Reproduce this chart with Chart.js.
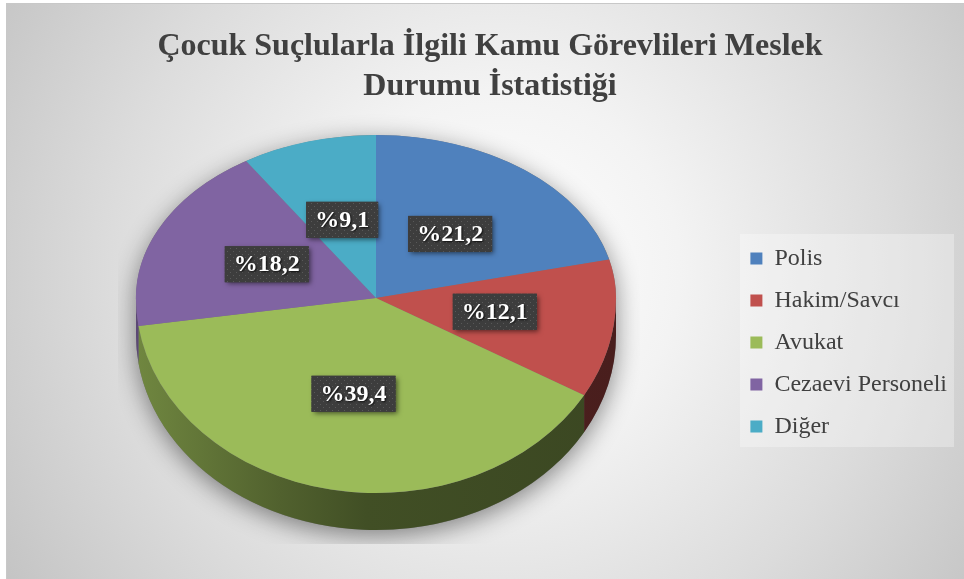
<!DOCTYPE html>
<html>
<head>
<meta charset="utf-8">
<script src="https://cdn.jsdelivr.net/npm/chart.js@4.4.0/dist/chart.umd.min.js"></script>
<style>
html, body { margin: 0; padding: 0; background: #fff; }
#wrap { width: 964px; height: 579px; }
</style>
</head>
<body>
<div id="wrap"><canvas id="chart" width="964" height="579"></canvas></div>
<script>
const categories = ["Polis", "Hakim/Savcı", "Avukat", "Cezaevi Personeli", "Diğer"];
const percentages = [21.2, 12.1, 39.4, 18.2, 9.1];
const sliceColors = ["#4F81BD", "#C0504D", "#9BBB59", "#8064A2", "#4BACC6"];
const titleLines = ["Çocuk Suçlularla İlgili Kamu Görevlileri Meslek", "Durumu İstatistiği"];

const SERIF = "'Liberation Serif', 'Times New Roman', serif";
// where the tilted pie sits on the page (back half flatter than front half)
const PIE = { cx: 376, cy: 298, rx: 240, ryBack: 163, ryFront: 195, depth: 37 };

const shade = (hex, f) => {
    const n = parseInt(hex.slice(1), 16);
    const r = Math.round(((n >> 16) & 255) * f);
    const g = Math.round(((n >> 8) & 255) * f);
    const b = Math.round((n & 255) * f);
    return `rgb(${r},${g},${b})`;
};

const backgroundPlugin = {
    id: "background",
    beforeDraw(chart) {
        const { ctx, width, height } = chart;
        ctx.save();
        ctx.fillStyle = "#ffffff";
        ctx.fillRect(0, 0, width, height);
        const g = ctx.createRadialGradient(500, 270, 0, 500, 270, 600);
        g.addColorStop(0, "#ffffff");
        g.addColorStop(0.3, "#f3f3f3");
        g.addColorStop(0.65, "#dcdcdc");
        g.addColorStop(1, "#c2c2c2");
        ctx.fillStyle = g;
        ctx.fillRect(7, 4, width - 7, height - 4);
        ctx.strokeStyle = "#c8c8c8";
        ctx.lineWidth = 1;
        ctx.strokeRect(6.5, 3.5, width - 6, height - 3);
        // legend panel
        ctx.fillStyle = "rgba(255,255,255,0.3)";
        ctx.fillRect(740, 234, 214, 213);
        ctx.restore();
    }
};

let dotPattern = null;
const getDotPattern = (ctx) => {
    if (dotPattern) return dotPattern;
    const c = document.createElement("canvas");
    c.width = 6;
    c.height = 6;
    const p = c.getContext("2d");
    p.fillStyle = "#3d3d3d";
    p.fillRect(0, 0, 6, 6);
    p.fillStyle = "#595959";
    p.fillRect(2, 2, 1, 1);
    p.fillRect(5, 5, 1, 1);
    dotPattern = ctx.createPattern(c, "repeat");
    return dotPattern;
};

const tiltedPiePlugin = {
    id: "tiltedPie",
    beforeDatasetsDraw(chart) {
        const { ctx, width, height } = chart;
        const arcs = chart.getDatasetMeta(0).data;
        const { x: x0, y: y0, outerRadius: r } = arcs[0];
        const { cx, cy, rx, ryBack, ryFront, depth } = PIE;

        // soft shadow under the whole pie
        ctx.save();
        ctx.beginPath();
        ctx.rect(118, 0, 522, 544);
        ctx.clip();
        ctx.beginPath();
        ctx.ellipse(cx, cy, rx, ryBack, 0, Math.PI, 2 * Math.PI);
        ctx.ellipse(cx, cy + depth, rx, ryFront, 0, 0, Math.PI);
        ctx.closePath();
        ctx.shadowColor = "rgba(0,0,0,0.45)";
        ctx.shadowBlur = 24;
        ctx.shadowOffsetY = 6;
        ctx.fillStyle = "#777";
        ctx.fill();
        ctx.restore();

        // side walls of the front half
        arcs.forEach((arc, i) => {
            const { startAngle, endAngle } = arc.getProps(["startAngle", "endAngle"]);
            const a1 = Math.max(startAngle, 0);
            const a2 = Math.min(endAngle, Math.PI);
            if (a2 <= a1) return;
            const base = sliceColors[i];
            const g = ctx.createLinearGradient(cx - rx, 0, cx + rx, 0);
            g.addColorStop(0, shade(base, 0.72));
            g.addColorStop(0.3, shade(base, 0.52));
            g.addColorStop(0.48, shade(base, 0.42));
            g.addColorStop(1, shade(base, 0.38));
            ctx.save();
            ctx.beginPath();
            ctx.ellipse(cx, cy, rx, ryFront, 0, a1, a2);
            ctx.ellipse(cx, cy + depth, rx, ryFront, 0, a2, a1, true);
            ctx.closePath();
            ctx.fillStyle = g;
            ctx.fill();
            ctx.restore();
        });

        // top face: library arcs, squashed differently behind and in front of the centre
        [[0, cy + 0.5, ryBack], [cy, height, ryFront]].forEach(([top, bottom, ry]) => {
            ctx.save();
            ctx.beginPath();
            ctx.rect(0, top, width, bottom - top);
            ctx.clip();
            ctx.translate(cx, cy);
            ctx.scale(rx / r, ry / r);
            ctx.translate(-x0, -y0);
            arcs.forEach((arc) => arc.draw(ctx));
            ctx.restore();
        });
        return false;
    },
    afterDraw(chart) {
        const { ctx } = chart;
        const arcs = chart.getDatasetMeta(0).data;
        const { x: x0, y: y0, outerRadius: r } = arcs[0];
        const { cx, cy, rx, ryBack, ryFront } = PIE;
        ctx.save();
        ctx.font = `bold 24px ${SERIF}`;
        ctx.textAlign = "center";
        ctx.textBaseline = "middle";
        arcs.forEach((arc, i) => {
            const p = arc.tooltipPosition();
            const dx = (p.x - x0) / r;
            const dy = (p.y - y0) / r;
            const sx = cx + dx * rx;
            const sy = cy + dy * (dy < 0 ? ryBack : ryFront);
            const text = "%" + percentages[i].toFixed(1).replace(".", ",");
            const w = ctx.measureText(text).width + 18;
            const h = 36;
            ctx.save();
            ctx.shadowColor = "rgba(0,0,0,0.55)";
            ctx.shadowBlur = 5;
            ctx.shadowOffsetX = 2;
            ctx.shadowOffsetY = 2;
            ctx.fillStyle = "#3d3d3d";
            ctx.fillRect(sx - w / 2, sy - h / 2, w, h);
            ctx.restore();
            ctx.fillStyle = getDotPattern(ctx);
            ctx.fillRect(sx - w / 2, sy - h / 2, w, h);
            ctx.save();
            ctx.shadowColor = "rgba(0,0,0,0.8)";
            ctx.shadowBlur = 2;
            ctx.shadowOffsetX = 1;
            ctx.shadowOffsetY = 1;
            ctx.fillStyle = "#ffffff";
            ctx.fillText(text, sx, sy + 1);
            ctx.restore();
        });
        ctx.restore();
    }
};

new Chart(document.getElementById("chart"), {
    type: "pie",
    data: {
        labels: categories,
        datasets: [{
            data: percentages,
            backgroundColor: sliceColors,
            borderWidth: 0,
        }],
    },
    options: {
        responsive: false,
        animation: false,
        layout: {
            padding: { left: 23, right: 7, top: 17, bottom: 10 },
        },
        plugins: {
            title: {
                display: true,
                text: titleLines,
                color: "#404040",
                font: { family: SERIF, size: 32, weight: "bold", lineHeight: 1.25 },
                padding: { top: 10, bottom: 10 },
            },
            legend: {
                position: "right",
                // empty legend title just pushes the items down to sit beside the pie
                title: {
                    display: true,
                    text: "",
                    font: { size: 12, lineHeight: 1 },
                    padding: { top: 0, bottom: 87 },
                },
                labels: {
                    boxWidth: 12,
                    boxHeight: 12,
                    padding: 18,
                    color: "#404040",
                    font: { family: SERIF, size: 24 },
                },
            },
            tooltip: { enabled: false },
        },
    },
    plugins: [backgroundPlugin, tiltedPiePlugin],
});
</script>
</body>
</html>
